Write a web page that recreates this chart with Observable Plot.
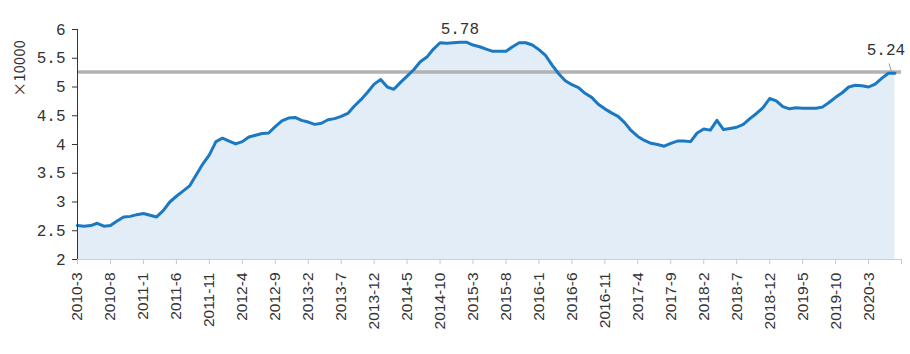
<!DOCTYPE html>
<html><head><meta charset="utf-8">
<script src="https://cdn.jsdelivr.net/npm/d3@7"></script>
<script src="https://cdn.jsdelivr.net/npm/@observablehq/plot@0.6"></script>
<style>body{margin:0;background:#fff}</style>
</head><body><div id="chart"></div>
<script>
// monthly values (×10000), 2010-3 .. 2020-7
const values = [
  2.59,2.58,2.59,2.63,2.58,2.59,2.67,2.74,2.75,2.78,
  2.80,2.77,2.74,2.85,3.00,3.10,3.19,3.28,3.47,3.66,
  3.82,4.05,4.11,4.06,4.01,4.05,4.13,4.16,4.19,4.20,
  4.31,4.41,4.46,4.47,4.42,4.39,4.35,4.37,4.43,4.45,
  4.49,4.54,4.67,4.78,4.91,5.05,5.13,5.00,4.96,5.08,
  5.19,5.30,5.44,5.52,5.66,5.77,5.76,5.77,5.78,5.78,
  5.73,5.70,5.66,5.62,5.62,5.62,5.70,5.77,5.77,5.73,
  5.65,5.55,5.38,5.23,5.11,5.04,4.99,4.89,4.82,4.70,
  4.62,4.55,4.49,4.38,4.24,4.14,4.07,4.02,4.00,3.97,
  4.02,4.06,4.06,4.05,4.20,4.27,4.25,4.42,4.26,4.28,
  4.30,4.35,4.45,4.54,4.64,4.80,4.76,4.66,4.62,4.64,
  4.63,4.63,4.63,4.65,4.73,4.82,4.90,5.00,5.03,5.02,
  5.00,5.05,5.15,5.24,5.24
];
const tickLabels = ["2010-3","2010-8","2011-1","2011-6","2011-11","2012-4","2012-9","2013-2","2013-7","2013-12","2014-5","2014-10","2015-3","2015-8","2016-1","2016-6","2016-11","2017-4","2017-9","2018-2","2018-7","2018-12","2019-5","2019-10","2020-3"];
const yTicks = [2,2.5,3,3.5,4,4.5,5,5.5,6];
const yTickLabels = ["2","2.5","3","3.5","4","4.5","5","5.5","6"];
const refValue = 5.26;
const peakText = "5.78";
const lastText = "5.24";
const unitText = "×10000";

const data = values.map((v, i) => ({i, v}));
const peakIndex = d3.maxIndex(values);
const lastIndex = values.length - 1;
const tickStep = 5;
const xTicks = tickLabels.map((_, k) => k * tickStep);

const chart = Plot.plot({
  width: 910, height: 354,
  marginLeft: 77, marginRight: 9, marginTop: 29, marginBottom: 95,
  x: {domain: [0, xTicks[xTicks.length - 1] + tickStep]},
  y: {domain: [yTicks[0], yTicks[yTicks.length - 1]]},
  marks: [
    Plot.areaY(data, {x: "i", y1: yTicks[0], y2: "v", fill: "#e3edf7"}),
    Plot.ruleY([refValue], {stroke: "#b2b2b2", strokeWidth: 3.5}),
    Plot.lineY(data, {x: "i", y: "v", stroke: "#1b78c2", strokeWidth: 3, strokeLinejoin: "round"}),
    Plot.frame({anchor: "bottom", stroke: "#cfcfcf"}),
    Plot.frame({anchor: "left", stroke: "#333"}),
    Plot.axisY({ticks: yTicks, tickFormat: (d, k) => yTickLabels[k], tickSize: 5, tickPadding: 7,
      stroke: "#333", fontFamily: "Liberation Mono", fontSize: 16, fill: "#333", label: null}),
    Plot.axisX({ticks: xTicks, tickFormat: d => tickLabels[d / tickStep], tickSize: 5, tickPadding: 8,
      tickRotate: -90, stroke: "#c8c8c8", fontFamily: "Liberation Sans", fontSize: 15.5, fill: "#333", label: null}),
    Plot.axisX({ticks: [xTicks[xTicks.length - 1] + tickStep], tickFormat: () => "", tickSize: 5, stroke: "#c8c8c8", label: null}),
    Plot.text([unitText], {frameAnchor: "top-left", textAnchor: "middle", lineAnchor: "middle", dx: -57, dy: 39, rotate: -90,
      fontFamily: "Noto Sans CJK SC", fontSize: 15, fill: "#333"}),
    Plot.text([peakIndex], {x: d => d, y: d => values[d], text: () => peakText, dy: -13,
      fontFamily: "Liberation Mono", fontSize: 16, fill: "#333"}),
    Plot.link([lastIndex], {x1: d => d - 0.9, y1: d => values[d] + 0.17, x2: d => d - 0.5, y2: d => values[d] + 0.02,
      stroke: "#999", strokeWidth: 1}),
    Plot.text([lastIndex], {x: d => d, y: d => values[d], text: () => lastText, dx: -9, dy: -23,
      fontFamily: "Liberation Mono", fontSize: 16, fill: "#333"})
  ]
});
document.getElementById("chart").appendChild(chart);
</script>
</body></html>
